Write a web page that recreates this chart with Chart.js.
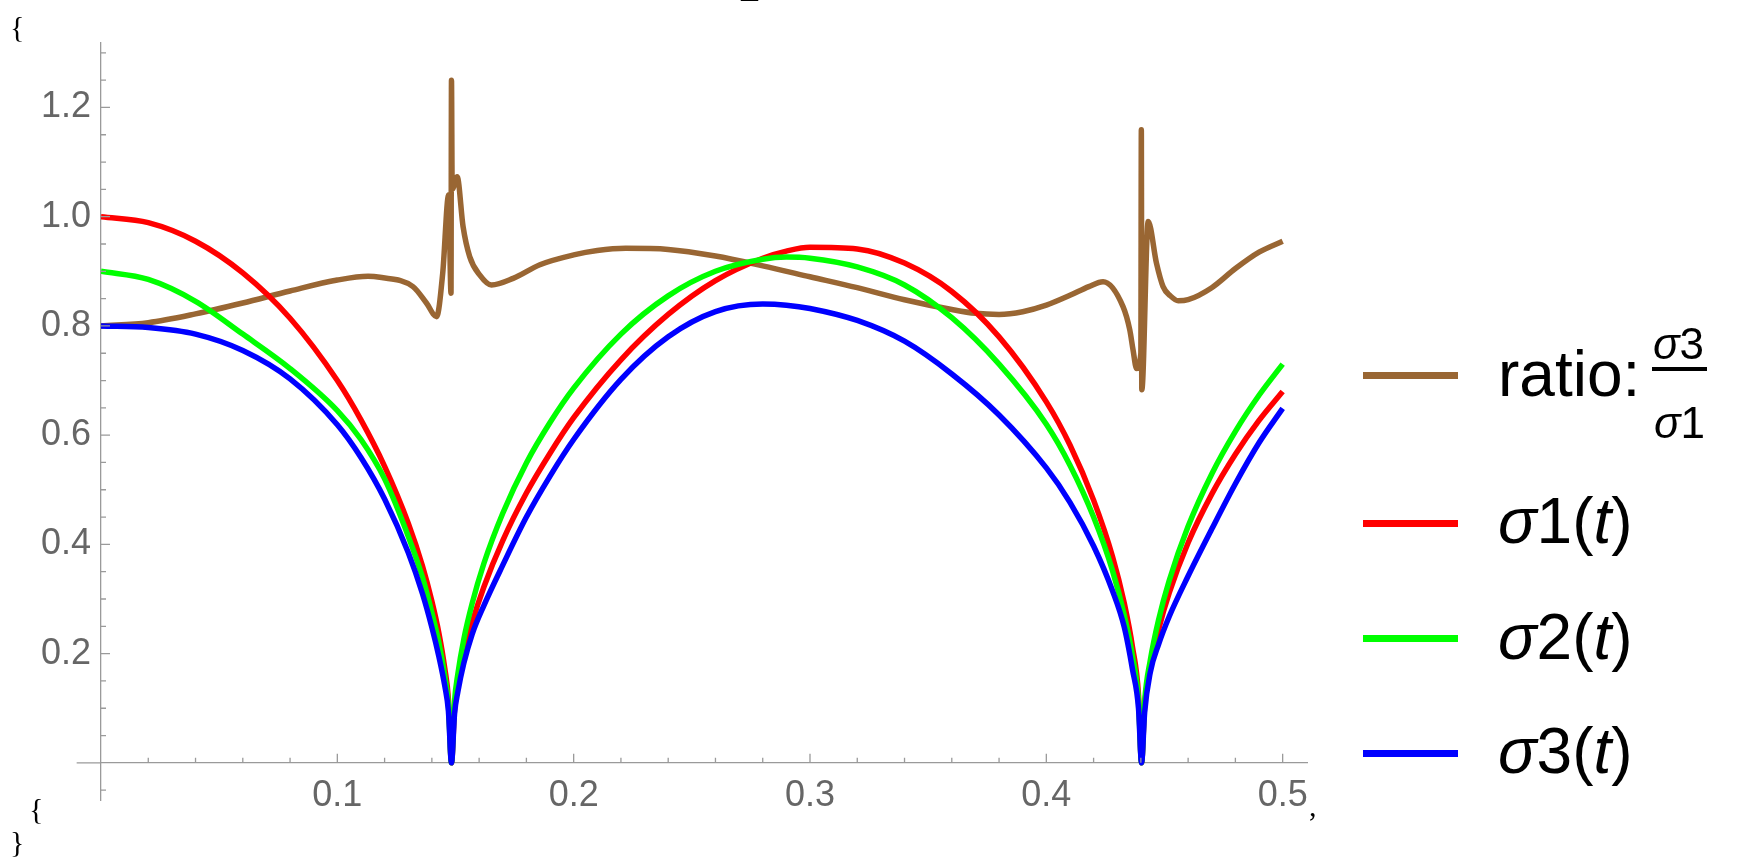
<!DOCTYPE html>
<html lang="en">
  <head>
    <meta charset="UTF-8" />
    <title>Singular values and ratio</title>
    <script src="https://cdn.jsdelivr.net/npm/chart.js"></script>
    <style>
      html, body { margin: 0; padding: 0; background: #fff; }
      #wrap { position: relative; width: 1753px; height: 857px; overflow: hidden; }
      #wrap canvas { position: absolute; left: 0; top: 0; }
      .mark { position: absolute; font-family: "Liberation Serif", serif; font-size: 30px; line-height: 1; color: #000; white-space: nowrap; }
      .key { position: absolute; left: 1363px; width: 95px; height: 7px; }
      .label { position: absolute; font-family: "Liberation Sans", Arial, sans-serif; font-size: 64px; line-height: 1; color: #000; white-space: nowrap; }
      .small { font-size: 44px; }
      .bar { position: absolute; left: 1652px; top: 367px; width: 55px; height: 4px; background: #000; }
    </style>
  </head>
  <body>
    <div id="wrap">
      <canvas id="chart" width="1753" height="857"></canvas>

      <!-- stray notebook brackets around the plot -->
      <span class="mark" style="left:741px; top:-31px; font-size:34px;">_</span>
      <span class="mark" style="left:10px; top:12px;">{</span>
      <span class="mark" style="left:29px; top:794px;">{</span>
      <span class="mark" style="left:10px; top:827px;">}</span>
      <span class="mark" style="left:1309px; top:791px;">,</span>

      <!-- Legend -->
      <div class="key" style="top:372px; background:#996633;"></div>
      <span class="label" style="left:1498px; top:342px;">ratio:</span>
      <span class="label small" style="left:1653px; top:322px;"><i>σ</i>3</span>
      <div class="bar"></div>
      <span class="label small" style="left:1654px; top:401px;"><i>σ</i>1</span>

      <div class="key" style="top:520px; background:#ff0000;"></div>
      <span class="label" style="left:1498px; top:489px;"><i>σ</i>1(<i>t</i>)</span>

      <div class="key" style="top:635px; background:#00ff00;"></div>
      <span class="label" style="left:1498px; top:605px;"><i>σ</i>2(<i>t</i>)</span>

      <div class="key" style="top:750px; background:#0000ff;"></div>
      <span class="label" style="left:1498px; top:719px;"><i>σ</i>3(<i>t</i>)</span>
    </div>

    <script>
      // sample points along t for the three singular values
      const tSigma = [0, 0.02, 0.04, 0.06, 0.08, 0.10, 0.11, 0.12, 0.13, 0.136, 0.14, 0.143, 0.1455, 0.147, 0.1483,
        0.1496, 0.151, 0.1535, 0.157, 0.162, 0.17, 0.18, 0.19, 0.20, 0.22, 0.24, 0.26, 0.28, 0.29, 0.30, 0.32, 0.34, 0.36,
        0.38, 0.40, 0.41, 0.42, 0.428, 0.433, 0.4365, 0.439, 0.4403,
        0.4416, 0.444, 0.4475, 0.452, 0.46, 0.47, 0.48, 0.49, 0.50];

      const sigma1 = [1.000, 0.989, 0.955, 0.897, 0.814, 0.700, 0.628, 0.543, 0.439, 0.361, 0.296, 0.237, 0.172, 0.117, 0,
        0.098, 0.142, 0.197, 0.256, 0.322, 0.407, 0.494, 0.567, 0.632, 0.738, 0.821, 0.883, 0.924, 0.937, 0.944, 0.941, 0.915, 0.863,
        0.780, 0.661, 0.582, 0.481, 0.378, 0.292, 0.211, 0.125, 0,
        0.104, 0.175, 0.244, 0.311, 0.403, 0.492, 0.565, 0.627, 0.680];

      const sigma2 = [0.900, 0.885, 0.845, 0.785, 0.722, 0.645, 0.592, 0.520, 0.415, 0.340, 0.275, 0.220, 0.158, 0.107, 0,
        0.113, 0.163, 0.226, 0.291, 0.365, 0.457, 0.549, 0.623, 0.686, 0.785, 0.855, 0.900, 0.922, 0.926, 0.924, 0.908, 0.875, 0.815,
        0.730, 0.620, 0.545, 0.450, 0.352, 0.270, 0.195, 0.114, 0,
        0.112, 0.188, 0.262, 0.334, 0.433, 0.529, 0.607, 0.673, 0.730];

      const sigma3 = [0.800, 0.797, 0.785, 0.755, 0.703, 0.619, 0.559, 0.483, 0.385, 0.310, 0.248, 0.194, 0.140, 0.095, 0,
        0.090, 0.130, 0.182, 0.235, 0.288, 0.362, 0.450, 0.525, 0.592, 0.702, 0.780, 0.826, 0.840, 0.838, 0.832, 0.810, 0.772, 0.712,
        0.637, 0.540, 0.477, 0.397, 0.315, 0.248, 0.170, 0.100, 0,
        0.092, 0.166, 0.217, 0.268, 0.342, 0.428, 0.511, 0.586, 0.649];

      // ratio sigma3/sigma1, with the numerical spikes at the two zeros
      const tRatio = [0, 0.02, 0.04, 0.06, 0.08, 0.10, 0.113, 0.118, 0.132, 0.1377, 0.142, 0.1446, 0.1471, 0.1481, 0.1483,
        0.1486, 0.1507, 0.1532, 0.156, 0.1603, 0.1652, 0.1744, 0.1857, 0.20, 0.21, 0.222, 0.24, 0.26, 0.28, 0.30, 0.32,
        0.34, 0.36, 0.37, 0.38, 0.39, 0.40, 0.41, 0.418, 0.424, 0.4325, 0.4353, 0.4367, 0.4382, 0.4400, 0.4402, 0.4404,
        0.4431, 0.4466, 0.4494, 0.4525, 0.4558, 0.46, 0.47, 0.48, 0.49, 0.50];

      const ratio = [0.800, 0.806, 0.822, 0.842, 0.864, 0.884, 0.891, 0.889, 0.872, 0.842, 0.817, 0.897, 1.04, 0.86, 1.25,
        1.05, 1.073, 0.982, 0.927, 0.893, 0.875, 0.887, 0.912, 0.930, 0.938, 0.942, 0.940, 0.928, 0.910, 0.890, 0.870,
        0.848, 0.830, 0.823, 0.821, 0.826, 0.838, 0.856, 0.872, 0.881, 0.835, 0.793, 0.756, 0.722, 0.75, 1.159, 0.683,
        0.991, 0.915, 0.872, 0.855, 0.846, 0.848, 0.870, 0.905, 0.935, 0.955];

      const xTickLabels = [0.1, 0.2, 0.3, 0.4, 0.5];
      const yTickLabels = [0.2, 0.4, 0.6, 0.8, 1.0, 1.2];

      const axisColor = '#9a9a9a';
      const labelFont = { family: 'Liberation Sans', size: 36 };

      const toPoints = (ts, vs) => ts.map((t, i) => ({ x: t, y: vs[i] }));

      const line = (label, ts, vs, color, order) => ({
        label,
        data: toPoints(ts, vs),
        borderColor: color,
        borderWidth: 5.5,
        pointRadius: 0,
        fill: false,
        cubicInterpolationMode: 'monotone',
        order
      });

      // Mathematica-style tick marks: drawn inward from the axes, long ones at labels
      const tickMarks = {
        id: 'tickMarks',
        afterDraw(chart) {
          const { ctx, scales: { x, y } } = chart;
          const x0 = x.getPixelForValue(0);
          const y0 = y.getPixelForValue(0);
          ctx.save();
          ctx.strokeStyle = axisColor;
          ctx.lineWidth = 1.3;
          ctx.beginPath();
          // bit of x axis left of the y axis
          ctx.moveTo(x.getPixelForValue(-0.0103), y0);
          ctx.lineTo(x0, y0);
          for (let k = 1; k <= 25; k++) {
            const px = x.getPixelForValue(k * 0.02);
            const len = k % 5 === 0 ? 9 : 5;
            ctx.moveTo(px, y0);
            ctx.lineTo(px, y0 - len);
          }
          for (let k = -1; k <= 26; k++) {
            if (k === 0) continue;
            const py = y.getPixelForValue(k * 0.05);
            const len = k % 4 === 0 ? 9 : 5;
            ctx.moveTo(x0, py);
            ctx.lineTo(x0 + len, py);
          }
          ctx.stroke();
          ctx.restore();
        }
      };

      new Chart(document.getElementById('chart'), {
        type: 'line',
        data: {
          datasets: [
            line('ratio', tRatio, ratio, '#996633', 4),
            line('σ1(t)', tSigma, sigma1, '#ff0000', 3),
            line('σ2(t)', tSigma, sigma2, '#00ff00', 2),
            line('σ3(t)', tSigma, sigma3, '#0000ff', 1)
          ]
        },
        options: {
          responsive: false,
          animation: false,
          events: [],
          layout: { padding: { left: 0, right: 446, top: 43, bottom: 57 } },
          plugins: { legend: { display: false }, tooltip: { enabled: false } },
          scales: {
            x: {
              type: 'linear',
              min: 0,
              max: 0.5103,
              position: { y: 0 },
              z: 1,
              grid: { display: false, drawTicks: false },
              border: { display: true, color: axisColor, width: 1.3 },
              afterBuildTicks: s => { s.ticks = xTickLabels.map(v => ({ value: v })); },
              ticks: {
                color: '#666666',
                font: labelFont,
                padding: 12,
                maxRotation: 0,
                callback: v => v.toFixed(1)
              }
            },
            y: {
              type: 'linear',
              min: -0.068,
              max: 1.318,
              position: 'left',
              z: 1,
              afterFit: s => { s.width = 101; },
              grid: { display: false, drawTicks: false },
              border: { display: true, color: axisColor, width: 1.3 },
              afterBuildTicks: s => { s.ticks = yTickLabels.map(v => ({ value: v })); },
              ticks: {
                color: '#666666',
                font: labelFont,
                padding: 10,
                callback: v => v.toFixed(1)
              }
            }
          }
        },
        plugins: [tickMarks]
      });
    </script>
  </body>
</html>
